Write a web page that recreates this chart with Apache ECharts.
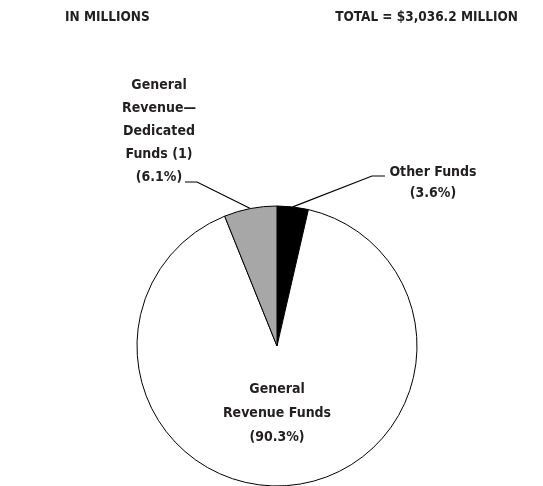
<!DOCTYPE html>
<html>
<head>
<meta charset="utf-8">
<script src="https://cdn.jsdelivr.net/npm/echarts@6/dist/echarts.min.js"></script>
<style>
html,body{margin:0;padding:0;background:#fff;}
#main{width:543px;height:486px;}
</style>
</head>
<body>
<div id="main"></div>
<script>
const categories = ['Other Funds', 'General Revenue Funds', 'General Revenue\u2014Dedicated Funds (1)'];
const shares = [3.6, 90.3, 6.1];
const labelTexts = ['Other Funds\n(3.6%)', 'General\nRevenue Funds\n(90.3%)', 'General\nRevenue\u2014\nDedicated\nFunds (1)\n(6.1%)'];
const sliceColors = ['#000000', '#ffffff', '#a7a7a7'];
const headerLeft = 'IN MILLIONS';
const headerRight = 'TOTAL = $3,036.2 MILLION';

const FONT = "'DejaVu Sans Condensed', 'Liberation Sans Narrow', sans-serif";
const TXT = '#231f20';
const FS = 14;

const chart = echarts.init(document.getElementById('main'), null, {renderer: 'canvas'});

const lineHeights = [21, 24, 23];
const data = categories.map((c, i) => ({
  name: c,
  value: shares[i],
  itemStyle: {color: sliceColors[i]},
  label: {
    formatter: labelTexts[i],
    position: i === 1 ? 'inside' : 'outside',
    lineHeight: lineHeights[i]
  },
  labelLine: {show: i !== 1}
}));

chart.setOption({
  animation: false,
  backgroundColor: '#ffffff',
  title: [
    {text: headerLeft, left: 60, top: 5,
     textStyle: {fontFamily: FONT, fontSize: 13.5, fontWeight: 'bold', color: TXT}},
    {text: headerRight, right: 20, top: 5,
     textStyle: {fontFamily: FONT, fontSize: 13.5, fontWeight: 'bold', color: TXT}}
  ],
  series: [{
    type: 'pie',
    center: [277, 346],
    radius: 140,
    startAngle: 90,
    clockwise: true,
    avoidLabelOverlap: false,
    itemStyle: {borderColor: '#000', borderWidth: 1},
    emphasis: {disabled: true},
    label: {
      fontFamily: FONT, fontSize: FS, fontWeight: 'bold', color: TXT,
      align: 'center'
    },
    labelLine: {lineStyle: {color: '#000', width: 1.2}, smooth: false},
    labelLayout: function (p) {
      const p0 = p.labelLinePoints ? p.labelLinePoints[0] : null;
      if (p.dataIndex === 0) {
        return {x: 433, y: 182.5, align: 'center', verticalAlign: 'middle',
          labelLinePoints: [p0, [372, 176], [385, 176]]};
      }
      if (p.dataIndex === 2) {
        return {x: 159, y: 131, align: 'center', verticalAlign: 'middle',
          labelLinePoints: [p0, [197, 182], [185, 182]]};
      }
      return {x: 277, y: 413, align: 'center', verticalAlign: 'middle'};
    },
    data: data
  }]
});
</script>
</body>
</html>
